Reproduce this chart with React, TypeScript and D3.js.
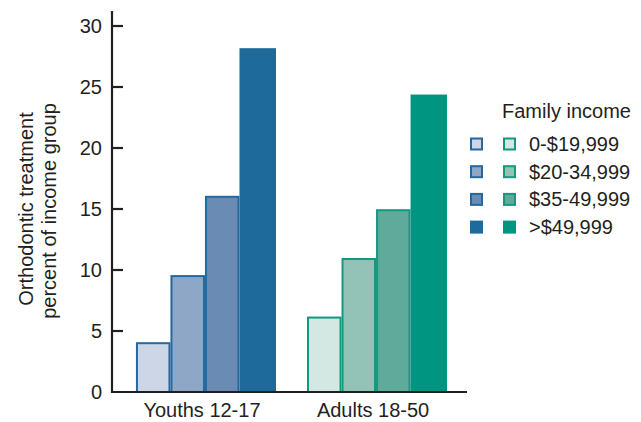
import React from "react";
import * as d3 from "d3";

const groups = ["Youths 12-17", "Adults 18-50"];
const incomeLabels = ["0-$19,999", "$20-34,999", "$35-49,999", ">$49,999"];
const youthValues = [4.0, 9.5, 16.0, 28.1];
const adultValues = [6.1, 10.9, 14.9, 24.3];
const yTicks = [0, 5, 10, 15, 20, 25, 30];

const blueFills = ["#ccd6e7", "#8ea7c7", "#6a8cb4", "#1e6a9b"];
const blueStroke = "#2369a0";
const tealFills = ["#d4e8e3", "#92c3b6", "#5faa9a", "#009580"];
const tealStroke = "#16977f";

const W = 641;
const H = 422;
const FONT = "'Liberation Sans', Arial, Helvetica, sans-serif";
const TEXT = "#231f20";
const FS = 20;

export default function App() {
  const y = d3.scaleLinear().domain([0, 30]).range([392, 26]);
  const x0 = d3
    .scaleBand<string>()
    .domain(groups)
    .range([112, 469])
    .paddingInner(0.193)
    .paddingOuter(0.14);
  const x1 = d3
    .scaleBand<string>()
    .domain(incomeLabels)
    .range([0, x0.bandwidth()])
    .padding(0);

  const series = [
    { group: groups[0], values: youthValues, fills: blueFills, stroke: blueStroke },
    { group: groups[1], values: adultValues, fills: tealFills, stroke: tealStroke },
  ];

  const axisX = 112;
  const baseY = y(0);

  return (
    <svg
      width={W}
      height={H}
      style={{ position: "absolute", left: 0, top: 0, background: "#fff" }}
      fontFamily={FONT}
    >
      {/* bars */}
      {series.map((s) => (
        <g key={s.group} transform={`translate(${x0(s.group)},0)`}>
          {s.values.map((v, i) => (
            <rect
              key={i}
              x={x1(incomeLabels[i])! + 1}
              y={y(v)}
              width={x1.bandwidth() - 2 + (i === 3 ? 2 : 0)}
              height={baseY - y(v)}
              fill={s.fills[i]}
              stroke={i === 3 ? s.fills[i] : s.stroke}
              strokeWidth={2}
            />
          ))}
        </g>
      ))}

      {/* y axis */}
      <line x1={axisX} x2={axisX} y1={11} y2={baseY + 1} stroke="#231f20" strokeWidth={2.2} />
      <line x1={axisX - 1} x2={467} y1={baseY} y2={baseY} stroke="#231f20" strokeWidth={2.2} />
      {yTicks.map((t) => (
        <g key={t}>
          {t !== 0 && (
            <line x1={axisX} x2={axisX + 11} y1={y(t)} y2={y(t)} stroke="#231f20" strokeWidth={2.2} />
          )}
          <text
            x={102}
            y={y(t)}
            dy="0.35em"
            textAnchor="end"
            fontSize={FS}
            fill={TEXT}
          >
            {t}
          </text>
        </g>
      ))}

      {/* y title */}
      <text
        transform="translate(33,209) rotate(-90)"
        textAnchor="middle"
        fontSize={FS}
        fill={TEXT}
      >
        Orthodontic treatment
      </text>
      <text
        transform="translate(56,211) rotate(-90)"
        textAnchor="middle"
        fontSize={FS}
        fill={TEXT}
      >
        percent of income group
      </text>

      {/* x labels */}
      {groups.map((g) => (
        <text
          key={g}
          x={x0(g)! + x0.bandwidth() / 2 - 3}
          y={417}
          textAnchor="middle"
          fontSize={FS}
          fill={TEXT}
        >
          {g}
        </text>
      ))}

      {/* legend */}
      <text x={502} y={118} fontSize={FS} fill={TEXT}>
        Family income
      </text>
      {incomeLabels.map((lab, i) => {
        const cy = 144 + i * 27.7;
        return (
          <g key={lab}>
            <rect
              x={471}
              y={cy - 5.5}
              width={11}
              height={11}
              fill={blueFills[i]}
              stroke={i === 3 ? blueFills[i] : blueStroke}
              strokeWidth={2}
            />
            <rect
              x={504}
              y={cy - 5.5}
              width={11}
              height={11}
              fill={tealFills[i]}
              stroke={i === 3 ? tealFills[i] : tealStroke}
              strokeWidth={2}
            />
            <text x={529} y={cy} dy="0.35em" fontSize={FS} fill={TEXT}>
              {lab}
            </text>
          </g>
        );
      })}
    </svg>
  );
}
